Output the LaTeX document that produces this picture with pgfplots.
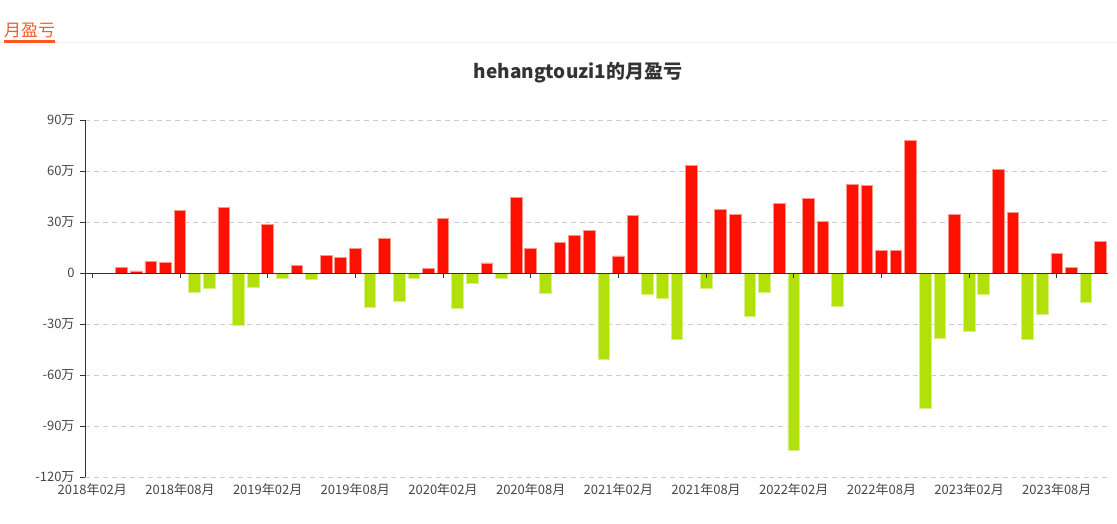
\documentclass[border=0pt]{standalone}
\usepackage{fontspec}
\setmainfont{Noto Sans CJK SC}
\usepackage{pgfplots}
\pgfplotsset{compat=1.18}
\definecolor{barred}{RGB}{255,16,0}
\definecolor{barredb}{RGB}{255,150,140}
\definecolor{bargreen}{RGB}{178,224,11}
\definecolor{bargreenb}{RGB}{215,240,130}
\definecolor{hdr}{RGB}{255,87,34}
\definecolor{axcol}{RGB}{51,51,51}
\definecolor{lblcol}{RGB}{70,70,70}
\definecolor{gridcol}{RGB}{204,204,204}
\begin{document}
\begin{tikzpicture}[x=1pt,y=1pt]
\path[use as bounding box] (0,0) rectangle (1117,523);
% header
\node[anchor=base west, text=hdr, font=\fontsize{17}{17}\selectfont, inner sep=0pt] at (4,486) {月盈亏};
\fill[gray!12] (0,479.5) rectangle (1117,480.5);
\fill[hdr] (4,479.5) rectangle (55,482.5);
\node[font=\bfseries\fontsize{19}{19}\selectfont, text=axcol] at (578,450) {hehangtouzi1的月盈亏};
\begin{axis}[
  at={(85pt,46pt)}, anchor=south west,
  scale only axis, width=1023pt, height=357pt,
  xmin=-0.5, xmax=69.5, ymin=-120, ymax=90,
  axis y line*=left, axis x line*=bottom,
  x axis line style={draw=none},
  y axis line style={draw=axcol, line width=1pt, -},
  xtick={0,6,...,66},
  xticklabels={2018年02月,2018年08月,2019年02月,2019年08月,2020年02月,2020年08月,2021年02月,2021年08月,2022年02月,2022年08月,2023年02月,2023年08月},
  xtick style={draw=none},
  ytick={-120,-90,-60,-30,0,30,60,90},
  yticklabels={-120万,-90万,-60万,-30万,0,30万,60万,90万},
  ytick style={draw=axcol, line width=0.8pt},
  tick align=outside, major tick length=5pt,
  ymajorgrids, grid style={dash pattern=on 5pt off 4pt, gridcol, line width=0.8pt},
  tick label style={font=\fontsize{13}{13}\selectfont, text=lblcol},
  xticklabel style={yshift=2pt},
  yticklabel style={xshift=-2pt},
]
\addplot[ybar, bar width=0.8, bar shift=0pt, fill=barred, draw=barredb, line width=0.8pt] coordinates {
(2,3.3) (3,1.2) (4,6.8) (5,6.4) (6,36.6) (9,38.7) (12,28.8) (14,4.5) (16,10.2) (17,9.4) (18,14.7) (20,20.1) (23,2.9) (24,31.9) (27,5.9) (29,44.4) (30,14.4) (32,18) (33,22.3) (34,25.2) (36,10) (37,33.6) (41,63.2) (43,37.6) (44,34.4) (47,41.1) (49,43.6) (50,30.1) (52,52.2) (53,51.6) (54,13.1) (55,13.5) (56,78.1) (59,34.6) (62,61) (63,35.8) (66,11.5) (67,3.5) (69,18.8)
};
\addplot[ybar, bar width=0.8, bar shift=0pt, fill=bargreen, draw=bargreenb, line width=0.8pt] coordinates {
(1,-0.5) (7,-11.4) (8,-8.8) (10,-31.1) (11,-8.2) (13,-3.3) (15,-3.5) (19,-20) (21,-16.7) (22,-3.3) (25,-20.6) (26,-6.3) (28,-3.3) (31,-12) (35,-50.9) (38,-12.6) (39,-14.9) (40,-39.3) (42,-8.8) (45,-25.5) (46,-11.7) (48,-104.5) (51,-19.6) (57,-79.5) (58,-38.4) (60,-34.3) (61,-12.6) (64,-39) (65,-24.3) (68,-17.4)
};
\draw[axcol, line width=1pt] (axis cs:-0.5,0) -- (axis cs:69.5,0);
\pgfplotsinvokeforeach{0,6,12,18,24,30,36,42,48,54,60,66}{
  \draw[axcol, line width=0.8pt] (axis cs:#1,0) -- ++(0pt,-5pt);
}
\end{axis}
\end{tikzpicture}
\end{document}
